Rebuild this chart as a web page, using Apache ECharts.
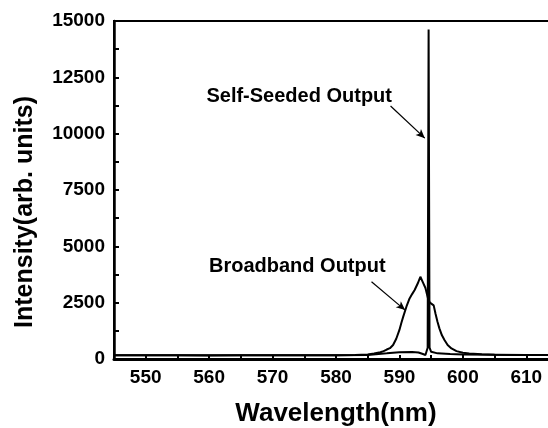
<!DOCTYPE html>
<html>
<head>
<meta charset="utf-8">
<script src="https://cdn.jsdelivr.net/npm/echarts@6/dist/echarts.min.js"></script>
<style>
  html, body { margin: 0; padding: 0; background: #fff; }
  #chart { width: 548px; height: 428px; }
</style>
</head>
<body>
<div id="chart"></div>
<script>
// 数据: 波长(nm) 与 强度
const broadWl = [545, 550, 555, 560, 565, 570, 575, 580, 583, 585, 586, 587, 587.5, 588, 588.5, 589, 589.5, 590, 590.3, 590.6, 591.1, 591.6, 592, 592.4, 592.9, 593.3, 593.7, 594.1, 594.5, 594.8, 595.1, 595.4, 595.7, 596, 596.3, 596.7, 597.1, 597.6, 598.2, 599, 600, 601, 603, 605, 610, 615];
const broadInt = [170, 165, 170, 160, 165, 170, 165, 170, 180, 200, 240, 300, 350, 420, 480, 620, 900, 1290, 1600, 1880, 2320, 2690, 2880, 3060, 3360, 3650, 3400, 3150, 2700, 2500, 2440, 2380, 2000, 1650, 1360, 1050, 840, 620, 470, 350, 280, 240, 210, 190, 180, 175];
const seedWl = [545, 550, 560, 570, 580, 585, 588, 590, 592, 593, 593.7, 594.1, 594.45, 594.6, 594.75, 595, 595.3, 596, 598, 600, 605, 610, 615];
const seedInt = [170, 165, 165, 170, 170, 180, 250, 300, 310, 290, 220, 180, 500, 14620, 500, 320, 280, 250, 220, 200, 190, 180, 180];
// 标注
const notes = [
  { text: "Self-Seeded Output", at: [574.2, 11670], from: [588.6, 11230], to: [594.0, 9800] },
  { text: "Broadband Output", at: [573.9, 4100], from: [585.6, 3430], to: [590.9, 2170] },
];

const font = "'Liberation Sans', Arial, sans-serif";
const pairs = (xs, ys) => xs.map((x, i) => [x, ys[i]]);

const myChart = echarts.init(document.querySelector("#chart"));
const option = {
  animation: false,
  grid: {
    left: 114,
    right: -10,
    top: 21,
    bottom: 69,
    outerBoundsMode: "none",
    show: true,
    borderColor: "#000",
    borderWidth: 2,
  },
  xAxis: {
    type: "value",
    min: 545,
    max: 615,
    interval: 5,
    name: "Wavelength(nm)",
    nameLocation: "middle",
    nameGap: 42,
    nameTextStyle: { fontFamily: font, fontWeight: "bold", fontSize: 26, color: "#000" },
    axisLine: { lineStyle: { color: "#000", width: 3 } },
    axisTick: { inside: true, length: 4, lineStyle: { color: "#000", width: 2 } },
    axisLabel: {
      fontFamily: font,
      fontWeight: "bold",
      fontSize: 19,
      color: "#000",
      margin: 9,
      formatter: (v) => (v % 10 === 0 && v <= 610 ? String(v) : ""),
    },
    splitLine: { show: false },
  },
  yAxis: {
    type: "value",
    min: 0,
    max: 15000,
    interval: 2500,
    name: "Intensity(arb. units)",
    nameLocation: "middle",
    nameGap: 76,
    nameTextStyle: {
      fontFamily: font,
      fontWeight: "bold",
      fontSize: 25,
      color: "#000",
      padding: [0, 44, 0, 0],
    },
    axisLine: { lineStyle: { color: "#000", width: 2.5 } },
    axisTick: { inside: true, length: 5, lineStyle: { color: "#000", width: 2 } },
    minorTick: { show: true, splitNumber: 2, length: 5, lineStyle: { color: "#000", width: 2 } },
    axisLabel: {
      fontFamily: font,
      fontWeight: "bold",
      fontSize: 19,
      color: "#000",
      margin: 9,
      formatter: (v) => String(v),
    },
    splitLine: { show: false },
  },
  series: [
    {
      name: "Broadband Output",
      type: "line",
      data: pairs(broadWl, broadInt),
      showSymbol: false,
      lineStyle: { color: "#000", width: 2 },
      markLine: {
        silent: true,
        symbol: ["none", "arrow"],
        symbolSize: [6, 9],
        lineStyle: { color: "#000", width: 1.2, type: "solid" },
        label: { show: false },
        data: notes.map((n) => [{ coord: n.from }, { coord: n.to }]),
      },
    },
    {
      name: "Self-Seeded Output",
      type: "line",
      data: pairs(seedWl, seedInt),
      showSymbol: false,
      lineStyle: { color: "#000", width: 2 },
    },
  ],
};
myChart.setOption(option);

// 标注文字
myChart.setOption({
  graphic: notes.map((n) => {
    const p = myChart.convertToPixel({ gridIndex: 0 }, n.at);
    return {
      type: "text",
      x: p[0],
      y: p[1],
      style: {
        text: n.text,
        fill: "#000",
        font: "bold 20px " + font,
        textAlign: "center",
        textVerticalAlign: "middle",
      },
    };
  }),
});
</script>
</body>
</html>
